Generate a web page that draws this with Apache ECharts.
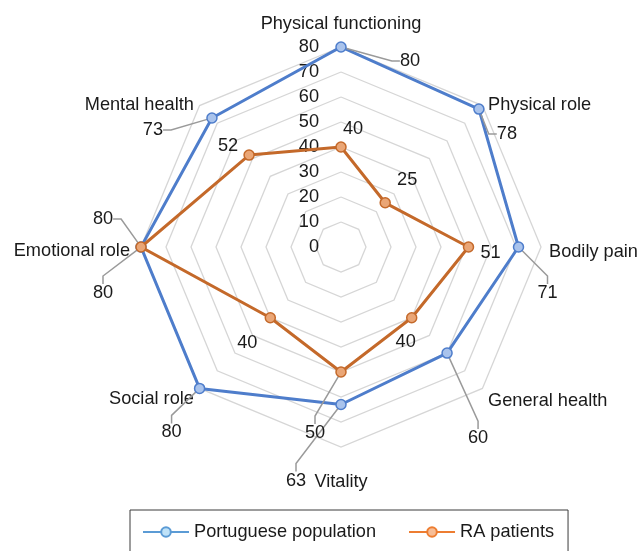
<!DOCTYPE html>
<html>
<head>
<meta charset="utf-8">
<script src="https://cdn.jsdelivr.net/npm/echarts@6/dist/echarts.min.js"></script>
<style>
html,body{margin:0;padding:0;background:#fff;}
#chart{width:641px;height:551px;}
</style>
</head>
<body>
<div id="chart"></div>
<script>
// ---- data (clockwise from top) ----
const indicators = ['Physical functioning','Physical role','Bodily pain','General health','Vitality','Social role','Emotional role','Mental health'];
const portuguese = [80, 78, 71, 60, 63, 80, 80, 73];
const raPatients = [40, 25, 51, 40, 50, 40, 80, 52];
const seriesNames = ['Portuguese population', 'RA patients'];
const axisMax = 80;
const axisSplits = 8;

// label offsets (pixels from point) and whether a leader line is shown
const portLabelOffsets = [[69,14],[28,25],[29,46],[31,85],[-45,76],[-28,44],[-38,46],[-59,12]];
const portLabelLines   = [true,true,true,true,true,true,true,true];
const raLabelOffsets   = [[12,-18],[22,-23],[22,6],[-6,24],[-26,61],[-23,25],[-38,-28],[-21,-9]];
const raLabelLines     = [false,false,false,false,true,false,true,false];
// indicator-name nudge style keys
const nameStyles = ['up','down','down','gh','vit','down','er','down'];

const FONT = '"Liberation Sans", Arial, Helvetica, sans-serif';
const FS = 18.2;
const TXT = '#1a1a1a';
const n = indicators.length;
const step = 360 / n;

// radar indicators go counter-clockwise in ECharts, so reorder
const radarOrder = indicators.map((_, i) => (n - i) % n);
const radarIndicators = radarOrder.map((idx, k) => {
  const o = { name: indicators[idx], max: axisMax, min: 0 };
  if (k === 0) o.axisLabel = { show: true };
  return o;
});

function buildData(values, lines) {
  const d = values.map((v, i) => ({ value: [v, i * step], labelLine: { show: lines[i] } }));
  d.push({ value: [values[0], 360], symbol: 'none', label: { show: false }, labelLine: { show: false } });
  return d;
}

function mkSeries(name, values, offsets, lines, lineColor, fillColor) {
  return {
    name: name,
    type: 'line',
    coordinateSystem: 'polar',
    data: buildData(values, lines),
    symbol: 'circle',
    symbolSize: 10,
    lineStyle: { color: lineColor, width: 3 },
    itemStyle: { color: fillColor, borderColor: lineColor, borderWidth: 1.5 },
    label: {
      show: true, position: 'inside',
      formatter: p => String(p.value[0]),
      fontFamily: FONT, fontSize: FS, color: TXT
    },
    labelLine: { show: true, length2: 8, lineStyle: { color: '#9a9a9a', width: 1.5 } },
    labelLayout: function (p) {
      const o = offsets[p.dataIndex];
      if (!o) return {};
      return { dx: o[0], dy: o[1] };
    },
    z: name === seriesNames[0] ? 3 : 4,
    animation: false
  };
}

const nameBase = { color: TXT, fontSize: FS, fontFamily: FONT };
const chart = echarts.init(document.getElementById('chart'), null, { renderer: 'canvas' });
chart.setOption({
  backgroundColor: '#ffffff',
  animation: false,
  textStyle: { fontFamily: FONT },
  radar: {
    center: [341, 247],
    radius: 200,
    startAngle: 90,
    shape: 'polygon',
    splitNumber: axisSplits,
    nameGap: 8,
    axisName: {
      color: TXT, fontSize: FS, fontFamily: FONT,
      formatter: function (v) {
        const i = indicators.indexOf(v);
        return '{' + nameStyles[i] + '|' + v + '}';
      },
      rich: {
        up:   Object.assign({ padding: [0, 0, 6, 0] }, nameBase),
        down: Object.assign({ padding: [10, 0, 0, 0] }, nameBase),
        gh:   Object.assign({ padding: [14, 0, 0, 0] }, nameBase),
        vit:  Object.assign({ padding: [18, 0, 0, 0] }, nameBase),
        er:   Object.assign({ padding: [8, 3, 0, 0] }, nameBase)
      }
    },
    axisLine: { show: false },
    axisTick: { show: false },
    axisLabel: { show: false, color: TXT, fontSize: FS, fontFamily: FONT, margin: 22 },
    splitLine: { lineStyle: { color: '#d6d6d6', width: 1.3 } },
    splitArea: { show: false },
    indicator: radarIndicators
  },
  polar: { center: [341, 247], radius: 200 },
  angleAxis: { type: 'value', min: 0, max: 360, startAngle: 90, clockwise: true, show: false },
  radiusAxis: { type: 'value', min: 0, max: axisMax, show: false },
  legend: {
    left: 130, top: 510,
    padding: [13, 14, 13, 12],
    borderColor: '#3a3a3a', borderWidth: 1,
    itemWidth: 46, itemHeight: 12, itemGap: 32,
    textStyle: { fontSize: FS, color: TXT, fontFamily: FONT },
    data: [
      { name: seriesNames[0], itemStyle: { color: '#bfe2f8', borderColor: '#5b9bd5' }, lineStyle: { color: '#5b9bd5' } },
      { name: seriesNames[1], itemStyle: { color: '#f7bd96', borderColor: '#ed7d31' }, lineStyle: { color: '#ed7d31' } }
    ]
  },
  series: [
    mkSeries(seriesNames[0], portuguese, portLabelOffsets, portLabelLines, '#4e7dcb', '#a9c3ec'),
    mkSeries(seriesNames[1], raPatients, raLabelOffsets, raLabelLines, '#c4692a', '#eaa676')
  ]
});
</script>
</body>
</html>
